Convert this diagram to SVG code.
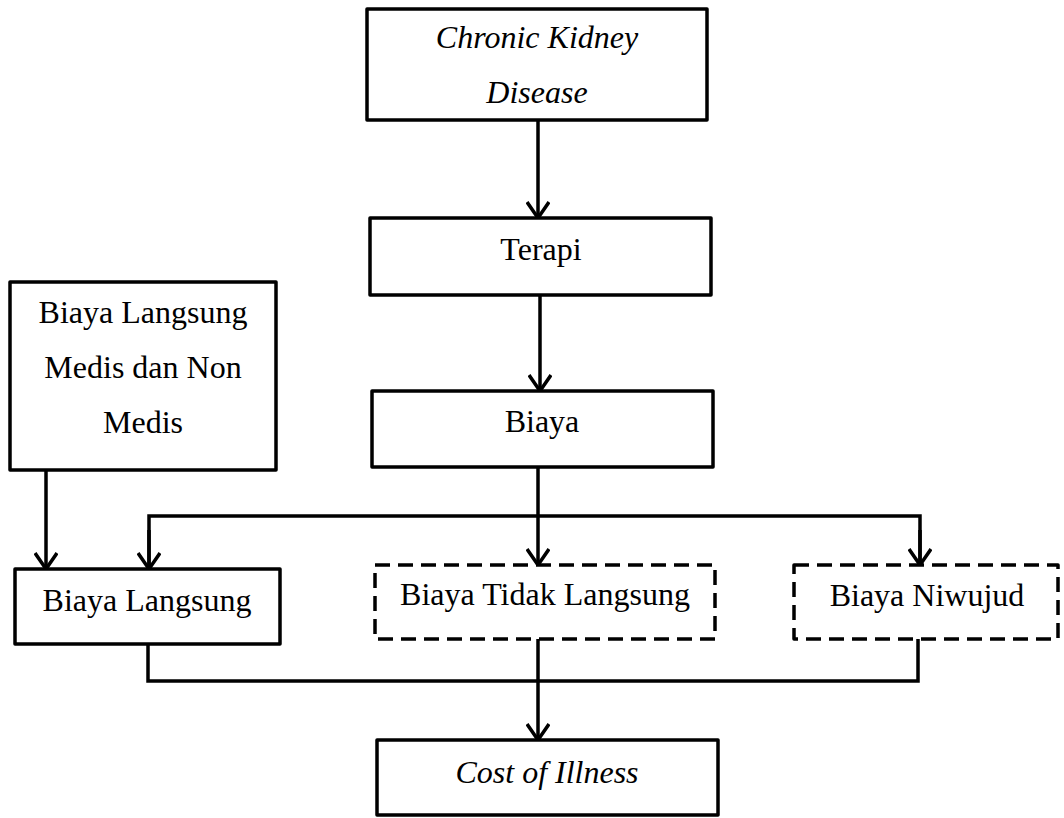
<svg xmlns="http://www.w3.org/2000/svg" width="1064" height="818" viewBox="0 0 1064 818">
<style>
.box{fill:#fff;stroke:#000;stroke-width:3.5;stroke-linejoin:round}
.dash{stroke-dasharray:15 8}
.t{font-family:"Liberation Serif","Times New Roman",serif;font-size:32px;fill:#000;text-anchor:middle}
.i{font-style:italic}
.c{fill:none;stroke:#000;stroke-width:3.5}
</style>
<defs>
<marker id="arr" viewBox="0 0 20 24" refX="17" refY="12" markerWidth="20" markerHeight="24" markerUnits="userSpaceOnUse" orient="auto">
<path d="M1,1 L17,12 L1,23" fill="none" stroke="#000" stroke-width="3.5"/>
</marker>
</defs>
<rect width="1064" height="818" fill="#fff"/>
<g id="connectors">
<path class="c" d="M538,120 V218" marker-end="url(#arr)"/>
<path class="c" d="M540,295 V391" marker-end="url(#arr)"/>
<path class="c" d="M538,467 V565" marker-end="url(#arr)"/>
<path class="c" d="M149,569 V516 H920 V565"/>
<path class="c" d="M149,530 V569" marker-end="url(#arr)"/>
<path class="c" d="M920,530 V565" marker-end="url(#arr)"/>
<path class="c" d="M46,470 V569" marker-end="url(#arr)"/>
<path class="c" d="M148,644 V681 H918 V639"/>
<path class="c" d="M538,639 V740" marker-end="url(#arr)"/>
</g>
<g id="ckd">
<rect class="box" x="367" y="9" width="340" height="111"/>
<text class="t i" x="537" y="48">Chronic Kidney</text>
<text class="t i" x="537" y="103">Disease</text>
</g>
<g id="terapi">
<rect class="box" x="370" y="218" width="341" height="77"/>
<text class="t" x="541" y="260">Terapi</text>
</g>
<g id="biaya">
<rect class="box" x="372" y="391" width="341" height="76"/>
<text class="t" x="542" y="432">Biaya</text>
</g>
<g id="biaya-langsung-medis">
<rect class="box" x="10" y="282" width="266" height="188"/>
<text class="t" x="143" y="323">Biaya Langsung</text>
<text class="t" x="143" y="378">Medis dan Non</text>
<text class="t" x="143" y="433">Medis</text>
</g>
<g id="biaya-langsung">
<rect class="box" x="15" y="569" width="265" height="75"/>
<text class="t" x="147" y="611">Biaya Langsung</text>
</g>
<g id="biaya-tidak-langsung">
<rect class="box dash" x="375" y="565" width="340" height="74"/>
<text class="t" x="545" y="605">Biaya Tidak Langsung</text>
</g>
<g id="biaya-niwujud">
<rect class="box dash" x="794" y="565" width="264" height="74"/>
<text class="t" x="927" y="606">Biaya Niwujud</text>
</g>
<g id="cost-of-illness">
<rect class="box" x="377" y="740" width="341" height="75"/>
<text class="t i" x="547" y="783">Cost of Illness</text>
</g>
</svg>
